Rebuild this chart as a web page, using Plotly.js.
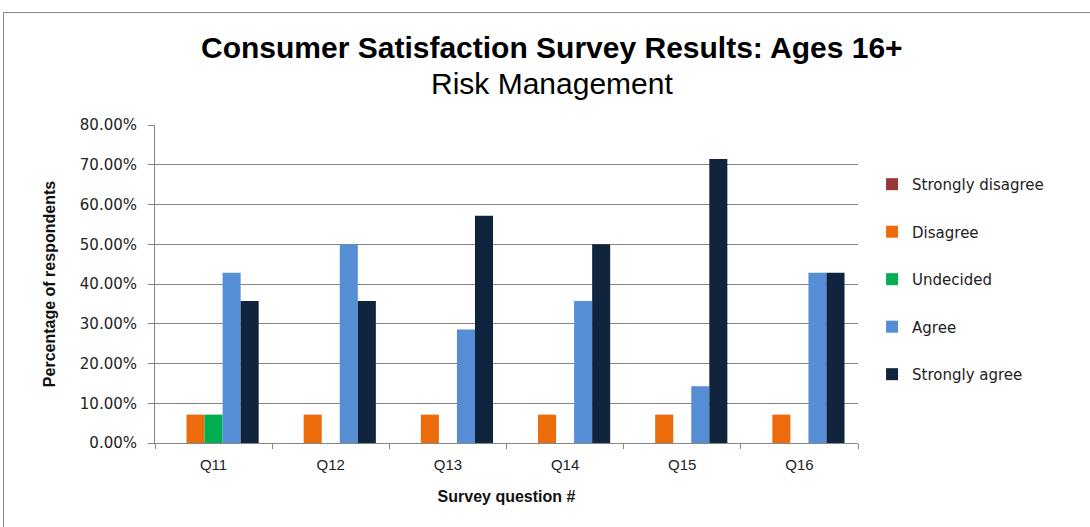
<!DOCTYPE html>
<html><head><meta charset="utf-8">
<script src="https://cdn.plot.ly/plotly-3.0.1.min.js"></script>
<style>html,body{margin:0;padding:0;background:#fff;overflow:hidden}
#frame{position:absolute;left:3px;top:12px;width:1100px;height:600px;border:1px solid #8a8a8a;pointer-events:none}
</style></head>
<body>
<div id="chart" style="width:1090px;height:527px;"></div>
<div id="frame"></div>
<script>
const categories = ["Q11","Q12","Q13","Q14","Q15","Q16"];
const seriesNames = ["Strongly disagree","Disagree","Undecided","Agree","Strongly agree"];
const stronglyDisagree = [0, 0, 0, 0, 0, 0];
const disagree = [0.0714, 0.0714, 0.0714, 0.0714, 0.0714, 0.0714];
const undecided = [0.0714, 0, 0, 0, 0, 0];
const agree = [0.4286, 0.50, 0.2857, 0.3571, 0.1429, 0.4286];
const stronglyAgree = [0.3571, 0.3571, 0.5714, 0.5000, 0.7143, 0.4286];
const colors = ["#953735","#EC6C0C","#00B050","#558ED5","#10243E"];
const yTicks = [0,0.1,0.2,0.3,0.4,0.5,0.6,0.7,0.8];
const yTickText = ["0.00%","10.00%","20.00%","30.00%","40.00%","50.00%","60.00%","70.00%","80.00%"];

const values = [stronglyDisagree, disagree, undecided, agree, stronglyAgree];
const traces = values.map((v,i)=>({
  type:'bar', x:categories, y:v, name:seriesNames[i], legendgroup:'g'+i,
  marker:{color:colors[i]}, hoverinfo:'x+y+name'
}));

const layout = {
  width:1090, height:527,
  margin:{l:155, r:232, t:125, b:84},
  paper_bgcolor:'#fff', plot_bgcolor:'#fff',
  barmode:'group', bargap:0.23, bargroupgap:0,
  font:{family:'DejaVu Sans, Verdana, sans-serif', color:'#333'},
  showlegend:true,
  legend:{x:1.02, y:0.865, xanchor:'left', yanchor:'top', traceorder:'grouped', tracegroupgap:25,
          font:{family:'DejaVu Sans, sans-serif', size:15, color:'#222'}, itemwidth:30},
  xaxis:{type:'category', showline:true, linecolor:'#868686', linewidth:1,
         ticks:'outside', ticklen:5, tickcolor:'#868686', tickson:'boundaries',
         ticklabelstandoff:8,
         tickfont:{family:'Liberation Sans, sans-serif', size:15, color:'#222'},
         title:{text:'<b>Survey question #</b>', font:{family:'Liberation Sans, sans-serif', size:16, color:'#111'}, standoff:18},
         showgrid:false, zeroline:false},
  yaxis:{range:[0,0.8], tickvals:yTicks, ticktext:yTickText, showline:true, linecolor:'#868686',
         ticks:'outside', ticklen:6, tickcolor:'#868686', ticklabelstandoff:8,
         showgrid:true, gridcolor:'#868686', gridwidth:1, zeroline:false,
         tickfont:{family:'DejaVu Sans, sans-serif', size:15, color:'#222'},
         title:{text:'<b>Percentage of respondents</b>', font:{family:'Liberation Sans, sans-serif', size:16, color:'#111'}, standoff:20}},
  annotations:[
    {text:'<b>Consumer Satisfaction Survey Results: Ages 16+</b>', xref:'paper', yref:'paper',
     x:0.565, y:1 + (125-47)/318, xanchor:'center', yanchor:'middle', showarrow:false,
     font:{family:'Liberation Sans, sans-serif', size:30, color:'#000'}},
    {text:'Risk Management', xref:'paper', yref:'paper',
     x:0.565, y:1 + (125-84)/318, xanchor:'center', yanchor:'middle', showarrow:false,
     font:{family:'Liberation Sans, sans-serif', size:30, color:'#000'}}
  ]
};

Plotly.newPlot('chart', traces, layout, {displayModeBar:false, staticPlot:true});
</script>
</body></html>
